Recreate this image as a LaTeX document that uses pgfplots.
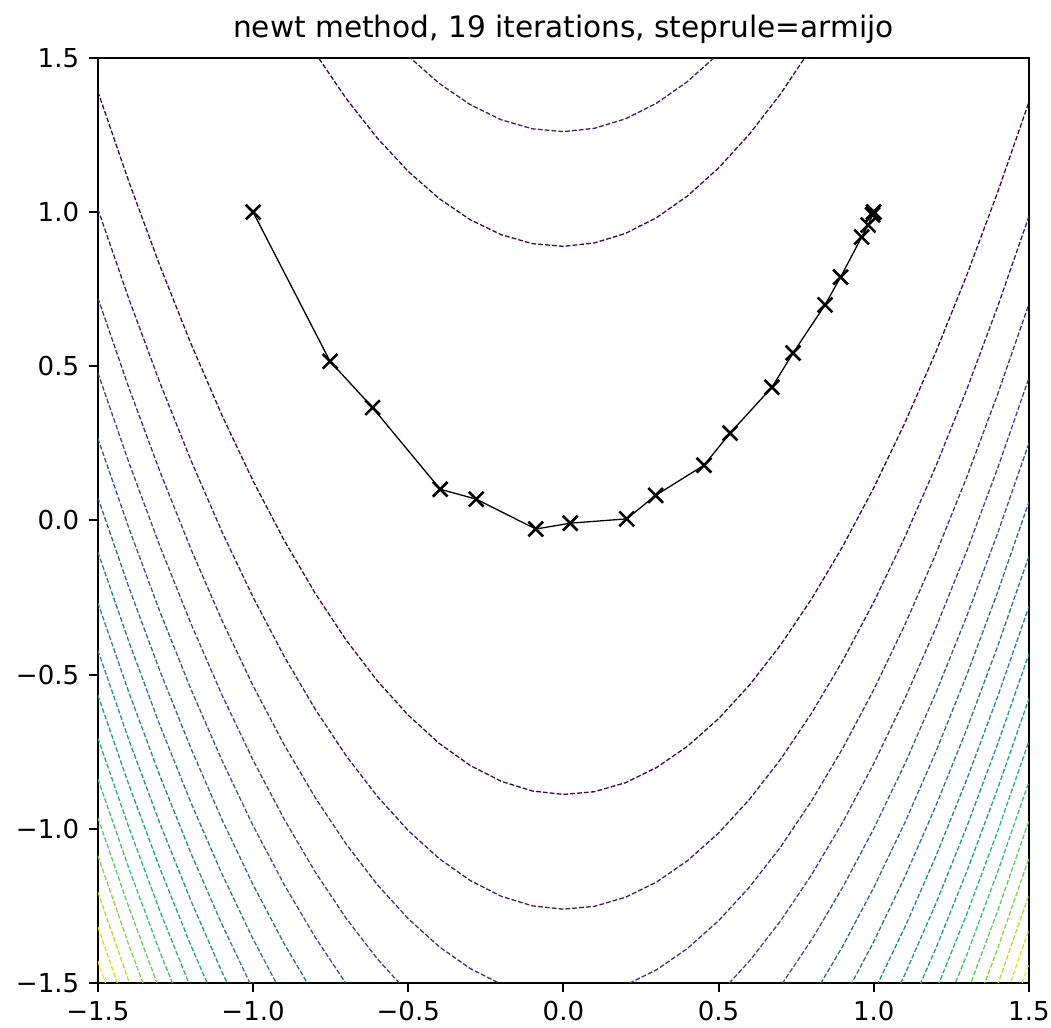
\documentclass[border=0pt]{standalone}
\usepackage{fontspec}
\setmainfont{DejaVu Sans}
\usepackage{pgfplots}
\pgfplotsset{compat=1.18}
% viridis samples for the 17 contour levels (80 ... 1360)
\definecolor{c1}{HTML}{440154}
\definecolor{c2}{HTML}{471769}
\definecolor{c3}{HTML}{472C7A}
\definecolor{c4}{HTML}{424085}
\definecolor{c5}{HTML}{3B528B}
\definecolor{c6}{HTML}{33628D}
\definecolor{c7}{HTML}{2C728E}
\definecolor{c8}{HTML}{26818E}
\definecolor{c9}{HTML}{21918C}
\definecolor{c10}{HTML}{1F9F88}
\definecolor{c11}{HTML}{28AE80}
\definecolor{c12}{HTML}{3FBC73}
\definecolor{c13}{HTML}{5EC962}
\definecolor{c14}{HTML}{82D34C}
\definecolor{c15}{HTML}{ACDC31}
\definecolor{c16}{HTML}{D7E21B}
\definecolor{c17}{HTML}{FDE725}
\pgfplotsset{cont/.style={line width=0.62pt, dash pattern=on 2.3pt off 1pt}}
\begin{document}
\begin{tikzpicture}
\begin{axis}[
  scale only axis, width=446.9pt, height=444pt,
  xmin=-1.5, xmax=1.5, ymin=-1.5, ymax=1.5,
  xtick={-1.5,-1,-0.5,0,0.5,1,1.5},
  ytick={-1.5,-1,-0.5,0,0.5,1,1.5},
  xticklabels={−1.5,−1.0,−0.5,0.0,0.5,1.0,1.5},
  yticklabels={−1.5,−1.0,−0.5,0.0,0.5,1.0,1.5},
  xtick pos=left, ytick pos=left,
  tick align=outside, major tick length=4.4pt,
  tick style={black, line width=1pt},
  axis line style={line width=1pt},
  ticklabel style={font=\fontsize{12.5}{15}\selectfont, inner sep=0pt},
  xticklabel shift=4.4pt, yticklabel shift=4.4pt,
  title={newt method, 19 iterations, steprule=armijo},
  title style={font=\fontsize{14.2}{17}\selectfont, at={(0.5,1)}, anchor=base, yshift=4pt, inner sep=0pt},
]
% upper branches
\addplot[cont, c1] coordinates {(-0.8,1.5163) (-0.7,1.3682) (-0.6,1.2401) (-0.5,1.1318) (-0.4,1.0434) (-0.3,0.9750) (-0.2,0.9264) (-0.1,0.8976) (0,0.8888) (0.1,0.8999) (0.2,0.9308) (0.3,0.9817) (0.4,1.0524) (0.5,1.1430) (0.6,1.2535) (0.7,1.3839) (0.8,1.5342)};
\addplot[cont, c2] coordinates {(-0.5,1.5060) (-0.4,1.4172) (-0.3,1.3482) (-0.2,1.2992) (-0.1,1.2701) (0,1.2609) (0.1,1.2717) (0.2,1.3024) (0.3,1.3530) (0.4,1.4235) (0.5,1.5139)};
% lower branches
\addplot[cont, c1] coordinates {(-1.5,1.3905) (-1.4,1.0978) (-1.3,0.8252) (-1.2,0.5727) (-1.1,0.3403) (-1.0,0.1280) (-0.9,-0.0642) (-0.8,-0.2363) (-0.7,-0.3882) (-0.6,-0.5201) (-0.5,-0.6318) (-0.4,-0.7234) (-0.3,-0.7950) (-0.2,-0.8464) (-0.1,-0.8776) (0,-0.8888) (0.1,-0.8799) (0.2,-0.8508) (0.3,-0.8017) (0.4,-0.7324) (0.5,-0.6430) (0.6,-0.5335) (0.7,-0.4039) (0.8,-0.2542) (0.9,-0.0843) (1.0,0.1056) (1.1,0.3157) (1.2,0.5458) (1.3,0.7961) (1.4,1.0665) (1.5,1.3570)};
\addplot[cont, c2] coordinates {(-1.5,1.0098) (-1.4,0.7179) (-1.3,0.4460) (-1.2,0.1942) (-1.1,-0.0375) (-1.0,-0.2491) (-0.9,-0.4406) (-0.8,-0.6121) (-0.7,-0.7635) (-0.6,-0.8948) (-0.5,-1.0060) (-0.4,-1.0972) (-0.3,-1.1682) (-0.2,-1.2192) (-0.1,-1.2501) (0,-1.2609) (0.1,-1.2517) (0.2,-1.2224) (0.3,-1.1730) (0.4,-1.1035) (0.5,-1.0139) (0.6,-0.9043) (0.7,-0.7745) (0.8,-0.6247) (0.9,-0.4549) (1.0,-0.2649) (1.1,-0.0549) (1.2,0.1753) (1.3,0.4255) (1.4,0.6957) (1.5,0.9861)};
\addplot[cont, c3] coordinates {(-1.5,0.7210) (-1.4,0.4294) (-1.3,0.1579) (-1.2,-0.0936) (-1.1,-0.3250) (-1.0,-0.5363) (-0.9,-0.7275) (-0.8,-0.8987) (-0.7,-1.0499) (-0.6,-1.1809) (-0.5,-1.2919) (-0.4,-1.3829) (-0.3,-1.4537) (-0.2,-1.5045) (0.2,-1.5071) (0.3,-1.4576) (0.4,-1.3880) (0.5,-1.2984) (0.6,-1.1887) (0.7,-1.0589) (0.8,-0.9091) (0.9,-0.7392) (1.0,-0.5492) (1.1,-0.3392) (1.2,-0.1091) (1.3,0.1411) (1.4,0.4113) (1.5,0.7016)};
\addplot[cont, c4] coordinates {(-1.5,0.4786) (-1.4,0.1872) (-1.3,-0.0841) (-1.2,-0.3353) (-1.1,-0.5666) (-1.0,-0.7777) (-0.9,-0.9688) (-0.8,-1.1398) (-0.7,-1.2908) (-0.6,-1.4217) (-0.5,-1.5326) (0.5,-1.5382) (0.6,-1.4285) (0.7,-1.2986) (0.8,-1.1488) (0.9,-0.9789) (1.0,-0.7889) (1.1,-0.5789) (1.2,-0.3488) (1.3,-0.0986) (1.4,0.1715) (1.5,0.4618)};
\addplot[cont, c5] coordinates {(-1.5,0.2656) (-1.4,-0.0256) (-1.3,-0.2968) (-1.2,-0.5479) (-1.1,-0.7790) (-1.0,-0.9900) (-0.9,-1.1810) (-0.8,-1.3519) (-0.7,-1.5028) (0.7,-1.5098) (0.8,-1.3599) (0.9,-1.1900) (1.0,-1.0000) (1.1,-0.7900) (1.2,-0.5599) (1.3,-0.3098) (1.4,-0.0396) (1.5,0.2506)};
\addplot[cont, c6] coordinates {(-1.5,0.0734) (-1.4,-0.2178) (-1.3,-0.4888) (-1.2,-0.7399) (-1.1,-0.9708) (-1.0,-1.1818) (-0.9,-1.3727) (-0.8,-1.5435) (0.8,-1.5509) (0.9,-1.3809) (1.0,-1.1909) (1.1,-0.9809) (1.2,-0.7508) (1.3,-0.5007) (1.4,-0.2305) (1.5,0.0597)};
\addplot[cont, c7] coordinates {(-1.5,-0.1032) (-1.4,-0.3942) (-1.3,-0.6652) (-1.2,-0.9162) (-1.1,-1.1471) (-1.0,-1.3580) (-0.9,-1.5488) (0.9,-1.5564) (1.0,-1.3664) (1.1,-1.1564) (1.2,-0.9263) (1.3,-0.6762) (1.4,-0.4061) (1.5,-0.1159)};
\addplot[cont, c8] coordinates {(-1.5,-0.2674) (-1.4,-0.5584) (-1.3,-0.8293) (-1.2,-1.0802) (-1.1,-1.3111) (-1.0,-1.5219) (1.0,-1.5298) (1.1,-1.3198) (1.2,-1.0897) (1.3,-0.8396) (1.4,-0.5695) (1.5,-0.2793)};
\addplot[cont, c9] coordinates {(-1.5,-0.4217) (-1.4,-0.7126) (-1.3,-0.9835) (-1.2,-1.2343) (-1.1,-1.4651) (-1.0,-1.6759) (1.0,-1.6833) (1.1,-1.4733) (1.2,-1.2432) (1.3,-0.9931) (1.4,-0.7230) (1.5,-0.4328)};
\addplot[cont, c10] coordinates {(-1.5,-0.5673) (-1.4,-0.8582) (-1.3,-1.1290) (-1.2,-1.3798) (-1.1,-1.6106) (1.1,-1.6184) (1.2,-1.3883) (1.3,-1.1382) (1.4,-0.8681) (1.5,-0.5780)};
\addplot[cont, c11] coordinates {(-1.5,-0.7059) (-1.4,-0.9968) (-1.3,-1.2676) (-1.2,-1.5183) (1.2,-1.5264) (1.3,-1.2763) (1.4,-1.0062) (1.5,-0.7161)};
\addplot[cont, c12] coordinates {(-1.5,-0.8383) (-1.4,-1.1291) (-1.3,-1.3999) (-1.2,-1.6506) (1.2,-1.6583) (1.3,-1.4083) (1.4,-1.1381) (1.5,-0.8480)};
\addplot[cont, c13] coordinates {(-1.5,-0.9652) (-1.4,-1.2560) (-1.3,-1.5267) (1.3,-1.5348) (1.4,-1.2647) (1.5,-0.9745)};
\addplot[cont, c14] coordinates {(-1.5,-1.0873) (-1.4,-1.3780) (-1.3,-1.6487) (1.3,-1.6565) (1.4,-1.3864) (1.5,-1.0962)};
\addplot[cont, c15] coordinates {(-1.5,-1.2051) (-1.4,-1.4958) (-1.3,-1.7665) (1.4,-1.5039) (1.5,-1.2137)};
\addplot[cont, c16] coordinates {(-1.5,-1.3189) (-1.4,-1.6096) (1.4,-1.6175) (1.5,-1.3273)};
\addplot[cont, c17] coordinates {(-1.5,-1.4293) (-1.4,-1.7200) (1.4,-1.7276) (1.5,-1.4375)};
% iterates
\addplot[black, line width=0.62pt, mark=x, mark size=5pt, mark options={line width=1.25pt, solid}]
  coordinates {(-1.0,1.0) (-0.752,0.516) (-0.615,0.366) (-0.397,0.101) (-0.281,0.069)
  (-0.089,-0.028) (0.022,-0.009) (0.204,0.005) (0.297,0.081) (0.453,0.179) (0.537,0.283)
  (0.672,0.432) (0.740,0.543) (0.843,0.699) (0.893,0.789) (0.961,0.919) (0.982,0.958)
  (0.996,0.991) (1.0,1.0) (1.0,1.0)};
\end{axis}
\path[draw=none] ([shift={(-47pt,-21.6pt)}]current axis.south west) rectangle ([shift={(10.6pt,27.8pt)}]current axis.north east);
\end{tikzpicture}
\end{document}
